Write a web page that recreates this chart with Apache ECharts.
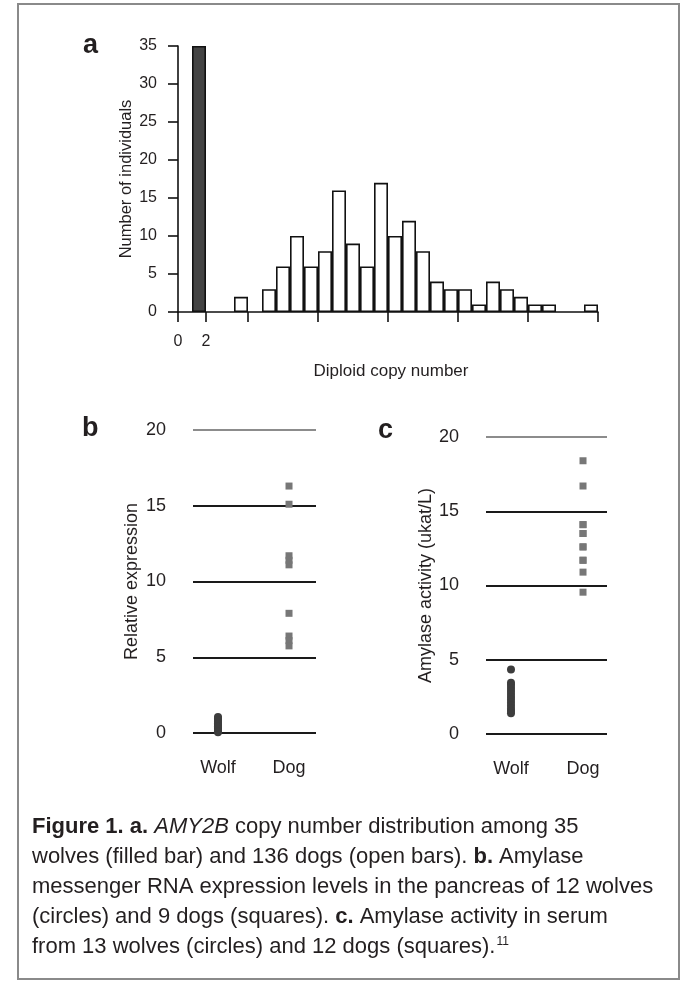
<!DOCTYPE html>
<html><head><meta charset="utf-8">
<script src="https://cdn.jsdelivr.net/npm/echarts@6/dist/echarts.min.js"></script>
<style>html,body{margin:0;padding:0;background:#fff}#c{width:688px;height:986px}</style>
</head><body><div id="c"></div>
<script>
// Panel a: AMY2B diploid copy number histogram
const wolfCopyNumbers = [2];
const wolfCounts = [35];
const dogCopyNumbers = [5,6,7,8,9,10,11,12,13,14,15,16,17,18,19,20,21,22,23,24,25,26,27,28,29,30];
const dogCounts =      [2,0,3,6,10,6,8,16,9,6,17,10,12,8,4,3,3,1,4,3,2,1,1,0,0,1];
const copyTickValues = [0,2,5,10,15,20,25,30];
const copyLabelValues = [0,2];

// Panel b: relative expression
const groups = ['Wolf','Dog'];
const expressionWolf = [0.05,0.12,0.2,0.28,0.36,0.45,0.55,0.65,0.75,0.85,0.95,1.05];
const expressionDog = [16.3,15.1,11.7,11.4,11.1,7.9,6.4,6.1,5.75];

// Panel c: amylase activity (ukat/L)
const amylaseWolf = [4.35,3.45,3.3,3.1,2.9,2.7,2.5,2.3,2.1,1.9,1.7,1.55,1.4];
const amylaseDog = [18.4,16.7,14.1,14.1,13.5,13.5,12.6,12.6,11.7,11.7,10.9,9.55];

const FONT = 'Liberation Sans';
const TXT = '#231f20';

const chart = echarts.init(document.getElementById('c'), null, {renderer:'canvas'});

const binPairs = (xs, ys) => xs.map((x,i)=>[x-0.5, ys[i]]).filter(p=>p[1]>0);

const catAxis = (gridIndex, min, max) => ({
  type:'value', gridIndex, min, max,
  axisLine:{show:false}, axisTick:{show:false}, splitLine:{show:false},
  axisLabel:{customValues:[0,1], formatter:v=>groups[Math.round(v)], fontSize:18, fontFamily:FONT, color:TXT, margin:26}
});
const valAxis = (gridIndex, name, nameGap) => ({
  type:'value', gridIndex, min:0, max:20, interval:5,
  name, nameLocation:'middle', nameGap, nameRotate:90, nameMoveOverlap:false,
  nameTextStyle:{fontSize:18, fontFamily:FONT, color:TXT},
  axisLine:{show:false}, axisTick:{show:false},
  axisLabel:{fontSize:18, fontFamily:FONT, color:TXT, margin:27},
  splitLine:{show:true, lineStyle:{width:1.8, color:['#1a1a1a','#1a1a1a','#1a1a1a','#1a1a1a','#8c8c8c']}}
});

const option = {
  animation:false,
  backgroundColor:'#fff',
  grid:[
    {left:178, top:46, width:420, height:266},
    {left:193, top:430, width:123, height:303},
    {left:486, top:437, width:121, height:297}
  ],
  xAxis:[
    {type:'value', gridIndex:0, min:0, max:30,
     name:'Diploid copy number', nameLocation:'middle', nameGap:51, nameMoveOverlap:false,
     nameTextStyle:{fontSize:17, fontFamily:FONT, color:TXT, padding:[0,0,0,6]},
     axisLine:{show:true, onZero:false, lineStyle:{color:'#111', width:1.6}},
     axisTick:{show:true, customValues:copyTickValues, length:10, lineStyle:{color:'#111', width:1.6}},
     axisLabel:{customValues:copyLabelValues, fontSize:16, fontFamily:FONT, color:TXT, margin:22},
     splitLine:{show:false}},
    catAxis(1, -0.352, 1.38),
    catAxis(2, -0.347, 1.333)
  ],
  yAxis:[
    {type:'value', gridIndex:0, min:0, max:35, interval:5,
     name:'Number of individuals', nameLocation:'middle', nameGap:43, nameRotate:90, nameMoveOverlap:false,
     nameTextStyle:{fontSize:16.5, fontFamily:FONT, color:TXT},
     axisLine:{show:true, lineStyle:{color:'#111', width:1.6}},
     axisTick:{show:true, length:10, lineStyle:{color:'#111', width:1.6}},
     axisLabel:{fontSize:16, fontFamily:FONT, color:TXT, margin:21},
     splitLine:{show:false}},
    valAxis(1, 'Relative expression', 52),
    valAxis(2, 'Amylase activity (ukat/L)', 51)
  ],
  series:[
    {type:'bar', xAxisIndex:0, yAxisIndex:0, barWidth:14, data:binPairs(wolfCopyNumbers, wolfCounts),
     itemStyle:{color:'#444', borderColor:'#111', borderWidth:1.6}},
    {type:'bar', xAxisIndex:0, yAxisIndex:0, barWidth:14, barGap:'-100%', data:binPairs(dogCopyNumbers, dogCounts),
     itemStyle:{color:'#fff', borderColor:'#111', borderWidth:1.6}},
    {type:'scatter', xAxisIndex:1, yAxisIndex:1, symbol:'circle', symbolSize:8,
     data:expressionWolf.map(v=>[0,v]), itemStyle:{color:'#3d3d3d', opacity:1}},
    {type:'scatter', xAxisIndex:1, yAxisIndex:1, symbol:'rect', symbolSize:7,
     data:expressionDog.map(v=>[1,v]), itemStyle:{color:'#777', opacity:1}},
    {type:'scatter', xAxisIndex:2, yAxisIndex:2, symbol:'circle', symbolSize:8,
     data:amylaseWolf.map(v=>[0,v]), itemStyle:{color:'#3d3d3d', opacity:1}},
    {type:'scatter', xAxisIndex:2, yAxisIndex:2, symbol:'rect', symbolSize:7,
     data:amylaseDog.map(v=>[1,v]), itemStyle:{color:'#777', opacity:1}}
  ],
  graphic:[
    {type:'rect', shape:{x:18, y:4, width:661, height:975}, style:{fill:'none', stroke:'#8a8a8a', lineWidth:2}, z:-1},
    {type:'text', x:83, y:46, style:{text:'a', font:'bold 27px "Liberation Sans"', fill:TXT, verticalAlign:'middle'}},
    {type:'text', x:82, y:429, style:{text:'b', font:'bold 27px "Liberation Sans"', fill:TXT, verticalAlign:'middle'}},
    {type:'text', x:378, y:431, style:{text:'c', font:'bold 27px "Liberation Sans"', fill:TXT, verticalAlign:'middle'}},
  ]
};

const capLines = [
  '{b|Figure 1. a.} {i|AMY2B} copy number distribution among 35',
  'wolves (filled bar) and 136 dogs (open bars). {b|b.} Amylase',
  'messenger RNA expression levels in the pancreas of 12 wolves',
  '(circles) and 9 dogs (squares). {b|c.} Amylase activity in serum',
  'from 13 wolves (circles) and 12 dogs (squares).{s|11}'
];
const capFs = 22;
capLines.forEach((t,i)=>{
  option.graphic.push({type:'text', x:32, y:826.5 + i*30, style:{
    text:t, fontSize:capFs, fontFamily:FONT, fill:TXT, verticalAlign:'middle',
    rich:{
      b:{fontWeight:'bold', fontSize:capFs, fontFamily:FONT, fill:TXT},
      i:{fontStyle:'italic', fontSize:capFs, fontFamily:FONT, fill:TXT},
      s:{fontSize:12, fontFamily:FONT, fill:TXT, verticalAlign:'top', padding:[0,0,10,1]}
    }
  }});
});

chart.setOption(option);
</script>
</body></html>
